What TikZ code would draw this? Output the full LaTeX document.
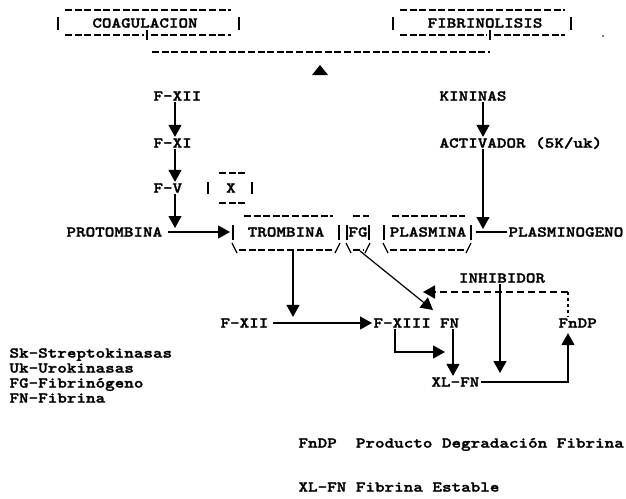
\documentclass[tikz,border=0pt]{standalone}
\usepackage{fontspec}
\newfontfamily\tw{lmmonolt10-bold.otf}[FakeStretch=1.215,FakeBold=1.8]
\usetikzlibrary{arrows.meta}
\begin{document}
\begin{tikzpicture}[x=1pt,y=-1pt,
  lbl/.style={font=\tw\fontsize{15pt}{17pt}\selectfont, inner sep=0pt, outer sep=1.5pt, text height=9.2pt, text depth=0pt},
  lw/.style={lbl, anchor=west},
  ln/.style={line width=1.2pt},
  arr/.style={line width=1.2pt, -{Triangle[width=13pt,length=12pt]}},
  dsh/.style={line width=1.3pt, dash pattern=on 7pt off 2.6pt},
  brk/.style={line width=1.3pt},
  inhl/.style={line width=1.3pt, dash pattern=on 7pt off 4pt},
  dtt/.style={line width=1.3pt, dash pattern=on 3pt off 3pt}]
\path[fill=white,use as bounding box] (0,0) rectangle (626,498);

% top boxes
\node[lbl] (coag) at (145,23) {COAGULACION};
\node[lbl] (fibr) at (485,23) {FIBRINOLISIS};
\draw[dsh] (65,10) -- (231,10);
\draw[brk] (58,17) -- (58,30) (239,17) -- (239,30);
\draw[dsh] (65,35) -- (144,35) (151,35) -- (231,35);
\draw[brk] (147,30) -- (147,40);
\draw[dsh] (400,10) -- (565,10);
\draw[brk] (393,17) -- (393,30) (571,17) -- (571,30);
\draw[dsh] (400,35) -- (487,35) (494,35) -- (565,35);
\draw[brk] (490,30) -- (490,40);
\fill (603,36) circle (0.8);
\draw[dsh] (152,52) -- (490,52);
\fill (312,75) -- (320,65) -- (328,75) -- cycle;

% coagulation column
\node[lw] (fxii) at (152,96) {F-XII};
\node[lw] (fxi) at (152,143) {F-XI};
\node[lw] (fv) at (152,188) {F-V};
\coordinate (cA) at (175,0);
\draw[arr] (cA |- fxii.south) -- (cA |- fxi.north);
\draw[arr] (cA |- fxi.south) -- (cA |- fv.north);
\coordinate (fvtip) at (175,228);
\draw[arr] (cA |- fv.south) -- (fvtip);

% X box
\node[lbl] (xx) at (231,188) {X};
\draw[dsh] (219,173) -- (246,173) (219,203) -- (246,203);
\draw[brk] (208,182) -- (208,194) (252,182) -- (252,194);

% fibrinolysis column
\node[lw] (kin) at (438,96) {KININAS};
\node[lw] (act) at (438,143) {ACTIVADOR (5K/uk)};
\coordinate (cB) at (483,0);
\draw[arr] (cB |- kin.south) -- (cB |- act.north);
\coordinate (acttip) at (483,229);
\draw[arr] (cB |- act.south) -- (acttip);

% middle row
\node[lw] (prot) at (65,232) {PROTOMBINA};
\node[lbl] (trom) at (286,232) {TROMBINA};
\node[lbl] (fg) at (358,232) {FG};
\node[lbl] (plas) at (428,232) {PLASMINA};
\node[lw] (plasg) at (507,232) {PLASMINOGENO};
\coordinate (tbL) at (233,232);
\draw[arr] ([xshift=4pt]prot.east) -- ([xshift=-3pt]tbL);
\draw[ln] ([xshift=8pt]plas.east) -- (plasg.west);
% box art
\draw[dsh] (244,216) -- (333,216) (353,216) -- (369,216) (392,216) -- (465,216);
\draw[brk] (233,225) -- (233,240) (339,225) -- (339,240) (347,225) -- (347,240)
  (369,225) -- (369,240) (384,225) -- (384,240) (471,225) -- (471,240);
\draw[brk] (232,243) -- (237,253) (335,253) -- (340,243) (346,243) -- (351,253)
  (365,253) -- (370,243) (383,243) -- (388,253) (466,253) -- (471,243);
\draw[dsh] (239,250) -- (333,250) (353,250) -- (363,250) (390,250) -- (465,250);

% lower part
\node[lw] (fxii2) at (219,323) {F-XII};
\node[lw] (fxiii) at (372,323) {F-XIII};
\node[lw] (fn) at (438.5,323) {FN};
\node[lw] (xlfn) at (430,382) {XL-FN};
\node[lw] (fndp) at (557,323) {FnDP};
\node[lbl] (inh) at (502,278) {INHIBIDOR};

\coordinate (tb) at (293,251);
\draw[arr] (tb) -- (tb |- fxii2.north);
\draw[arr] ([xshift=3pt]fxii2.east) -- (fxiii.west);
\coordinate (fgb) at (360,251);
\coordinate (fntip) at (433,310);
\draw[arr] (fgb) -- (fntip);
\coordinate (bend) at (445,352);
\coordinate (cC) at (395,0);
\draw[arr] (cC |- fxiii.south) |- (bend);
\coordinate (cD) at (453,0);
\draw[arr] (cD |- fn.south) -- (cD |- xlfn.north);
\coordinate (cE) at (568,0);
\draw[arr] (xlfn.east) -| ([yshift=-4pt]cE |- fndp.south);
\coordinate (dcorner) at (568,292);
\coordinate (dtip) at (423,292);
\draw[dtt] (dcorner) -- (cE |- fndp.north);
\draw[inhl,-{Triangle[width=13pt,length=12pt]}] (dcorner) -- (dtip);
\coordinate (ietip) at (500,373);
\draw[arr] ([xshift=-2pt]inh.south) -- (ietip);

% legend
\node[lw] (l1) at (8,353) {Sk-Streptokinasas};
\node[lw] (l2) at (8,368) {Uk-Urokinasas};
\node[lw] (l3) at (8,383) {FG-Fibrinógeno};
\node[lw] (l4) at (8,398) {FN-Fibrina};
\node[lw] (l5) at (297,443) {FnDP\ \ Producto Degradación Fibrina};
\node[lw] (l6) at (297,487) {XL-FN Fibrina Estable};
\end{tikzpicture}
\end{document}
